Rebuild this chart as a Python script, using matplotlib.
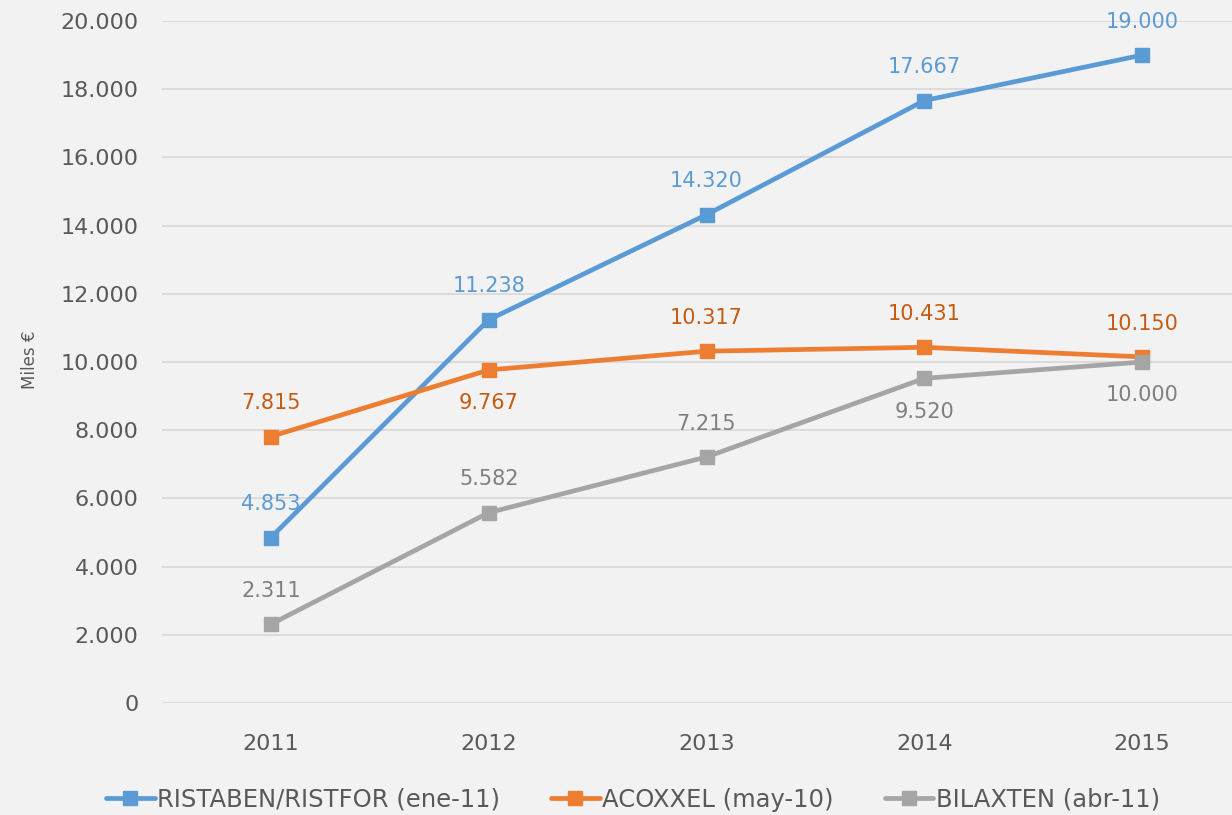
import matplotlib
matplotlib.use("Agg")
import matplotlib.pyplot as plt

years = ["2011", "2012", "2013", "2014", "2015"]
ristaben = [4853, 11238, 14320, 17667, 19000]
acoxxel = [7815, 9767, 10317, 10431, 10150]
bilaxten = [2311, 5582, 7215, 9520, 10000]

names = ["RISTABEN/RISTFOR (ene-11)", "ACOXXEL (may-10)", "BILAXTEN (abr-11)"]
line_colors = ["#5B9BD5", "#ED7D31", "#A5A5A5"]
label_colors = ["#5B9BD5", "#C55A11", "#7F7F7F"]
# +1 label above, -1 label below
positions = [
    [1, 1, 1, 1, 1],
    [1, -1, 1, 1, 1],
    [1, 1, 1, -1, -1],
]

def fmt(v):
    return f"{v:,}".replace(",", ".")

bg = "#F2F2F2"
fig = plt.figure(figsize=(12.32, 8.15), dpi=100, facecolor=bg)
ax = fig.add_axes([162/1232, 112/815, (1251-162)/1232, (703-21)/815])
ax.set_facecolor(bg)

x = list(range(len(years)))
series = [ristaben, acoxxel, bilaxten]
for vals, name, lc, tc, pos in zip(series, names, line_colors, label_colors, positions):
    ax.plot(x, vals, color=lc, lw=3.4, marker="s", markersize=10, label=name,
            solid_capstyle="round", zorder=3)
    for xi, v, p in zip(x, vals, pos):
        ax.annotate(fmt(v), (xi, v), xytext=(0, 24 * p), textcoords="offset points",
                    ha="center", va="center", color=tc, fontsize=15, zorder=4)

ax.set_xlim(-0.5, 4.5)
ax.set_ylim(0, 20000)
ax.set_yticks(range(0, 20001, 2000))
ax.set_yticklabels([fmt(v) for v in range(0, 20001, 2000)])
ax.set_xticks(x)
ax.set_xticklabels(years)
ax.tick_params(length=0, labelsize=16, labelcolor="#595959")
ax.tick_params(axis="y", pad=17)
ax.tick_params(axis="x", pad=22)
ax.grid(axis="y", color="#D9D9D9", lw=1.3)
ax.set_axisbelow(True)
for s in ax.spines.values():
    s.set_visible(False)

fig.text(30/1232, 1 - 360/815, "Miles €", rotation=90, ha="center", va="center",
         fontsize=12, color="#595959")

leg = fig.legend(loc="center", bbox_to_anchor=(633/1232, 15/815), ncol=3, frameon=False,
                 fontsize=17.5, handlelength=2.0, handletextpad=0.1, columnspacing=2.1,
                 labelcolor="#595959")

fig.savefig("out.png", dpi=100, facecolor=bg)
